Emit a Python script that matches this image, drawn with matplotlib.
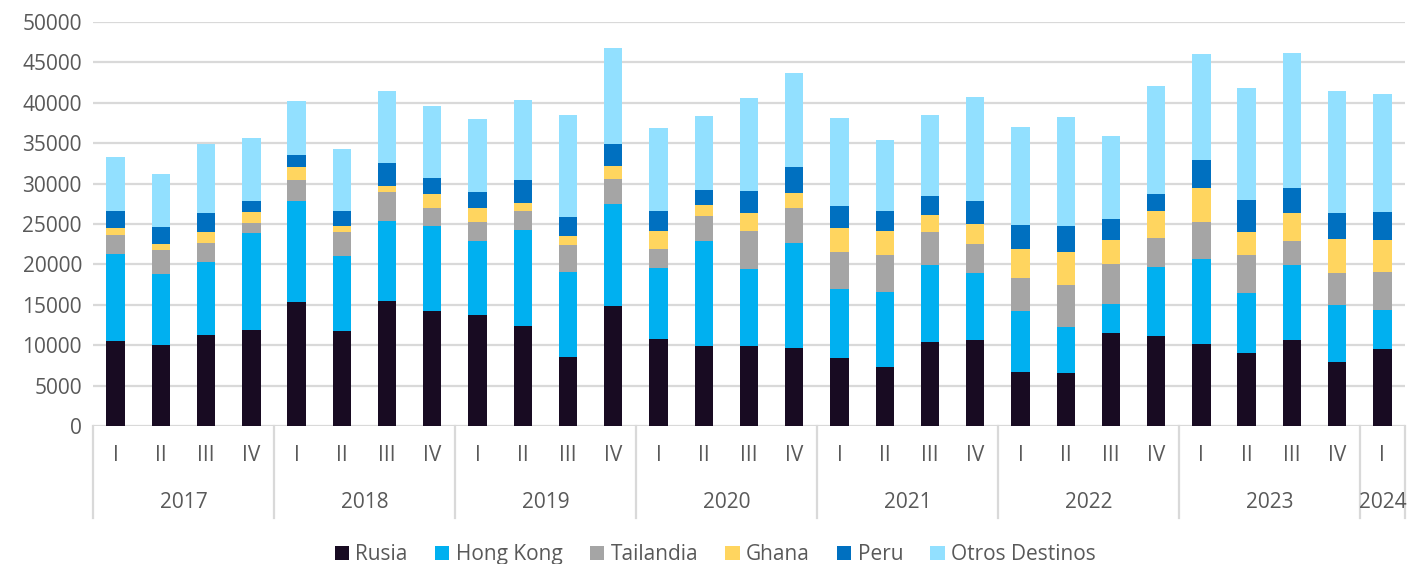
import numpy as np
import matplotlib
matplotlib.use('Agg')
import matplotlib.pyplot as plt
from matplotlib.patches import Patch

# quarters / years
quarters = ['I', 'II', 'III', 'IV'] * 7 + ['I']
years = ['2017', '2018', '2019', '2020', '2021', '2022', '2023', '2024']
year_sizes = [4, 4, 4, 4, 4, 4, 4, 1]

series_names = ['Rusia', 'Hong Kong', 'Tailandia', 'Ghana', 'Peru', 'Otros Destinos']
colors = ['#180b22', '#00b0f0', '#a5a5a5', '#ffd55f', '#0070c0', '#92e0ff']

rusia = [10550, 10070, 11300, 11900, 15350, 11700, 15500, 14200,
         13700, 12400, 8600, 14800, 10800, 9950, 9950, 9700,
         8450, 7350, 10400, 10600, 6700, 6600, 11500, 11100,
         10200, 9050, 10700, 7950, 9500]
hong_kong = [10750, 8780, 9000, 12000, 12450, 9300, 9900, 10500,
             9150, 11900, 10500, 12700, 8700, 12950, 9450, 13000,
             8450, 9250, 9500, 8300, 7500, 5650, 3600, 8600,
             10500, 7350, 9250, 7050, 4800]
tailandia = [2300, 2950, 2400, 1200, 2700, 3050, 3500, 2300,
             2450, 2300, 3350, 3100, 2450, 3050, 4700, 4300,
             4600, 4600, 4150, 3600, 4150, 5250, 5000, 3600,
             4550, 4800, 2950, 3900, 4800]
ghana = [900, 700, 1350, 1400, 1550, 700, 850, 1700,
         1700, 1000, 1050, 1600, 2150, 1350, 2300, 1800,
         3000, 2900, 2050, 2500, 3600, 4000, 2950, 3350,
         4150, 2750, 3500, 4200, 3900]
peru = [2100, 2100, 2350, 1300, 1450, 1900, 2750, 1950,
        2000, 2900, 2400, 2700, 2500, 1950, 2700, 3250,
        2700, 2550, 2400, 2800, 2950, 3200, 2550, 2050,
        3550, 4000, 3100, 3300, 3450]
otros = [6700, 6550, 8500, 7800, 6700, 7650, 9000, 9000,
         9000, 9850, 12600, 11900, 10300, 9150, 11500, 11650,
         10900, 8750, 10000, 12900, 12150, 13550, 10300, 13400,
         13050, 13850, 16700, 15100, 14600]

data = [rusia, hong_kong, tailandia, ghana, peru, otros]

grey_txt = '#595959'
line_col = '#d9d9d9'
plt.rcParams['font.family'] = ['Open Sans', 'DejaVu Sans']

fig = plt.figure(figsize=(14.08, 5.64), dpi=100)
ax = fig.add_axes([93 / 1408, 1 - 426 / 564, 1312 / 1408, 404 / 564])

x = np.arange(len(quarters))
bottom = np.zeros(len(x))
for name, vals, col in zip(series_names, data, colors):
    ax.bar(x, vals, width=0.405, bottom=bottom, color=col, label=name, zorder=3)
    bottom += np.array(vals)

ax.set_xlim(-0.5, len(x) - 0.5)
ax.set_ylim(0, 50000)
ax.set_yticks(np.arange(0, 50001, 5000))
ax.tick_params(axis='y', length=0, pad=8, labelsize=15, labelcolor=grey_txt)
ax.grid(axis='y', color=line_col, linewidth=1.6, zorder=0)
ax.set_xticks([])
for s in ax.spines.values():
    s.set_visible(False)

# two-level category axis
trans = ax.get_xaxis_transform()
for xi, q in zip(x, quarters):
    ax.text(xi, -0.074, q, transform=trans, ha='center', va='center',
            fontsize=15, color=grey_txt)
start = 0
edges = [-0.5]
for yr, n in zip(years, year_sizes):
    ax.text(start + (n - 1) / 2, -0.19, yr, transform=trans, ha='center',
            va='center', fontsize=15, color=grey_txt)
    start += n
    edges.append(start - 0.5)
for e in edges:
    ax.plot([e, e], [0, -0.228], transform=trans, color=line_col,
            linewidth=1.6, clip_on=False)

handles = [Patch(facecolor=c, label=n) for n, c in zip(series_names, colors)]
fig.legend(handles=handles, loc='center', bbox_to_anchor=(0.508, 0.016), ncol=6,
           frameon=False, handlelength=0.7, handleheight=0.7, handletextpad=0.3,
           columnspacing=1.3, prop={'size': 15}, labelcolor=grey_txt)

plt.savefig('out.png', dpi=100)
